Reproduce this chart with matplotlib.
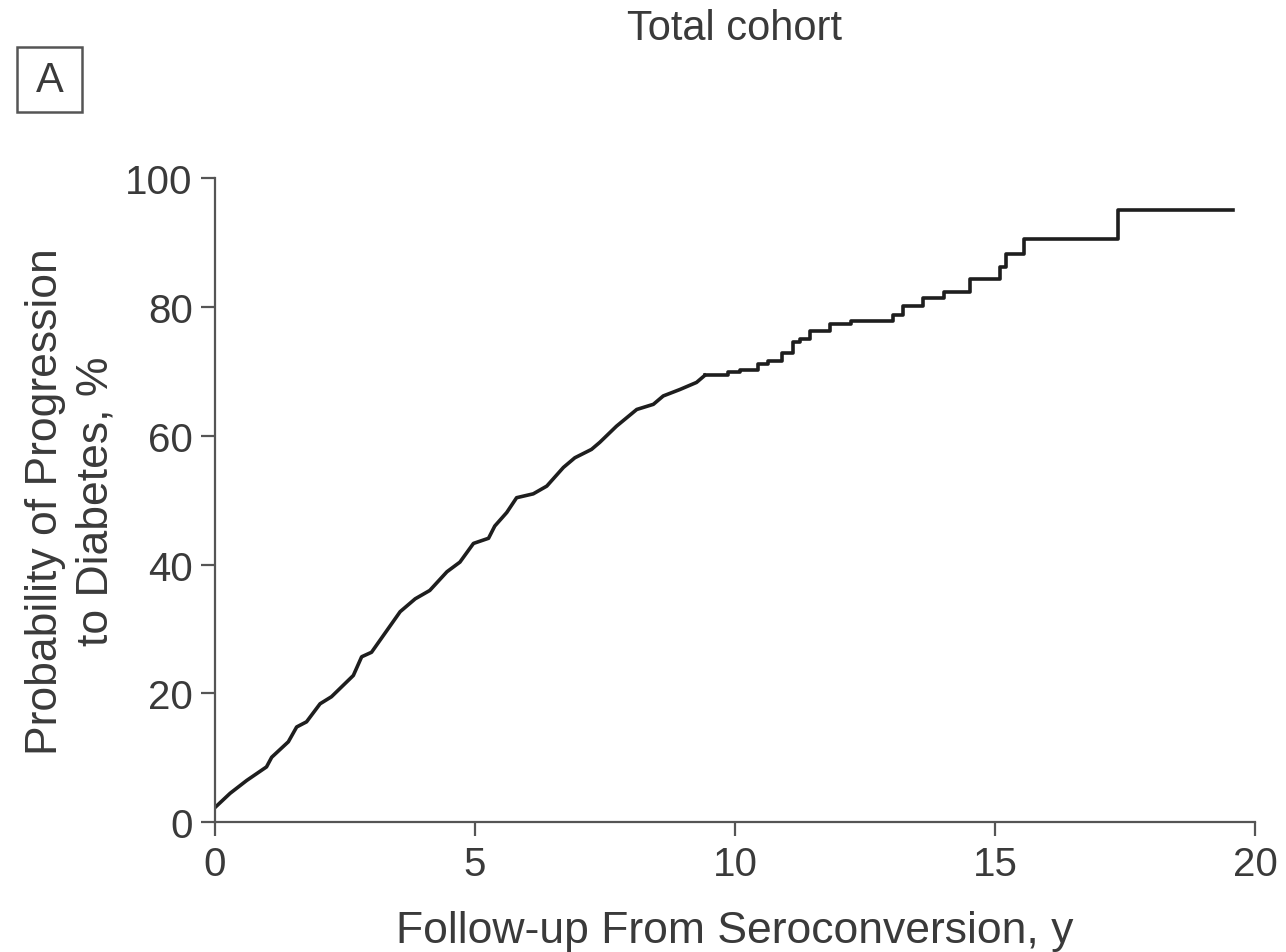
import numpy as np
import matplotlib.pyplot as plt
from matplotlib.patches import Rectangle

plt.rcParams['font.family'] = ['Liberation Sans', 'DejaVu Sans']

# smooth-looking early part of the cumulative incidence curve (years, %)
early_t = [0, 0.29, 0.61, 0.99, 1.09, 1.41, 1.57, 1.76, 2.02, 2.24, 2.66, 2.82,
           3.01, 3.56, 3.85, 4.13, 4.46, 4.71, 4.97, 5.26, 5.38, 5.61, 5.80,
           6.12, 6.38, 6.70, 6.92, 7.24, 7.40, 7.72, 8.11, 8.43, 8.62, 8.94,
           9.26, 9.42]
early_p = [2.3, 4.5, 6.5, 8.6, 10.1, 12.5, 14.8, 15.6, 18.4, 19.5, 22.8, 25.7,
           26.4, 32.7, 34.7, 36.0, 38.9, 40.4, 43.3, 44.1, 46.0, 48.1, 50.4,
           51.0, 52.2, 55.1, 56.6, 57.9, 59.0, 61.5, 64.1, 64.9, 66.2, 67.2,
           68.3, 69.4]

# later part, visible steps (event time, level after event)
step_t = [9.42, 9.87, 10.10, 10.45, 10.64, 10.90, 11.12, 11.25, 11.44, 11.83,
          12.24, 13.04, 13.24, 13.62, 14.01, 14.51, 15.10, 15.21, 15.56, 17.37,
          19.58]
step_p = [69.4, 69.9, 70.3, 71.1, 71.6, 72.9, 74.5, 75.0, 76.3, 77.3,
          77.8, 78.8, 80.1, 81.4, 82.4, 84.4, 86.2, 88.2, 90.6, 95.1,
          95.1]

txt = '#3a3a3a'
axc = '#555555'
fs = 29
lfs = 32

fig = plt.figure(figsize=(12.86, 9.53), dpi=100)
ax = fig.add_axes([0.1672, 0.1361, 0.8087, 0.6758])

ax.plot(early_t, early_p, color='#1e1e1e', lw=2.6)
ax.plot(step_t, step_p, color='#1e1e1e', lw=2.6, drawstyle='steps-post')

ax.set_xlim(0, 20)
ax.set_ylim(0, 100)
ax.set_xticks([0, 5, 10, 15, 20])
ax.set_yticks([0, 20, 40, 60, 80, 100])

for s in ['top', 'right']:
    ax.spines[s].set_visible(False)
for s in ['left', 'bottom']:
    ax.spines[s].set_color(axc)
    ax.spines[s].set_linewidth(1.6)

ax.tick_params(direction='out', length=10, width=1.6, color=axc,
               labelsize=fs, labelcolor=txt, pad=6)

ax.set_xlabel('Follow-up From Seroconversion, y', fontsize=lfs, color=txt,
              labelpad=20)
ax.set_ylabel('Probability of Progression\nto Diabetes, %', fontsize=lfs,
              color=txt, labelpad=6, linespacing=1.3)

fig.text(0.5715, 0.97, 'Total cohort', fontsize=30, color=txt,
         ha='center', va='center')
fig.patches.append(Rectangle((17 / 1286, 1 - 113 / 953), 65 / 1286, 65 / 953,
                             transform=fig.transFigure, fc='white', ec=axc,
                             lw=1.8))
fig.text(49.5 / 1286, 1 - 80.5 / 953, 'A', fontsize=30, color=txt,
         ha='center', va='center')

fig.savefig('out.png', dpi=100)
